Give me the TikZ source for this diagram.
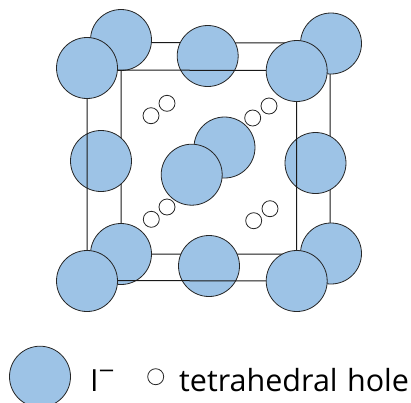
\documentclass[tikz,border=0pt]{standalone}
\usepackage{fontspec}
\setmainfont{Open Sans}
\definecolor{ionblue}{HTML}{9DC3E6}
\tikzset{
  ion/.style={circle,draw=black!85,line width=0.8bp,fill=ionblue,minimum size=61bp,inner sep=0pt},
  hole/.style={circle,draw=black!85,line width=0.8bp,fill=white,minimum size=16bp,inner sep=0pt},
  edge/.style={draw=black!90,line width=1bp},
  label/.style={inner sep=0pt,anchor=base west,font=\fontsize{30.5bp}{30.5bp}\selectfont}
}
\begin{document}
\begin{tikzpicture}[x=1bp,y=-1bp]
\useasboundingbox (0,0) rectangle (411,403);
\begin{scope}
\clip (0,0) rectangle (411,403);
\coordinate (pbtl) at (121,40);
\coordinate (pbtr) at (331,43.5);
\coordinate (pbbl) at (121,254);
\coordinate (pbbr) at (331,253.5);
\coordinate (pftl) at (87,68);
\coordinate (pftr) at (296.7,71);
\coordinate (pfbl) at (87,281);
\coordinate (pfbr) at (296.7,281);
\draw[edge] (121,42.5) -- (121,254) -- (330,254) -- (330,43) -- cycle;
\node[ion] (btl) at (pbtl) {};
\node[ion] (btr) at (pbtr) {};
\node[ion] (bbl) at (pbbl) {};
\node[ion] (bbr) at (pbbr) {};
\node[ion] (lmid) at (101,161) {};
\node[ion] (rmid) at (315.5,163) {};
\node[ion] (tmid) at (207.7,56) {};
\node[ion] (bmid) at (209,266) {};
\node[ion] (cback) at (224.5,147.5) {};
\node[ion] (cfront) at (191.7,174.7) {};
\draw[edge] (87,70) -- (296.5,70.5) -- (296.5,281) -- (87,280.5) -- cycle;
\node[ion] (ftl) at (pftl) {};
\node[ion] (ftr) at (pftr) {};
\node[ion] (fbl) at (pfbl) {};
\node[ion] (fbr) at (pfbr) {};
\node[hole] (h1) at (151,115.7) {};
\node[hole] (h2) at (167,103.3) {};
\node[hole] (h3) at (252.7,118) {};
\node[hole] (h4) at (269,106) {};
\node[hole] (h5) at (151.3,219.3) {};
\node[hole] (h6) at (167,207) {};
\node[hole] (h7) at (253.7,220.7) {};
\node[hole] (h8) at (270,208.7) {};
\node[ion] (legion) at (40,376.7) {};
\node[hole] (leghole) at (155.7,376.7) {};
\node[label] (ionlabel) at (90,391.5) {I};
\node[label,font=\fontsize{26bp}{26bp}\selectfont] (minus) at (100,391.5) {¯};
\node[label] (holelabel) at (179,391.5) {tetrahedral\hspace{1.5bp} hole};
\end{scope}
\end{tikzpicture}
\end{document}
